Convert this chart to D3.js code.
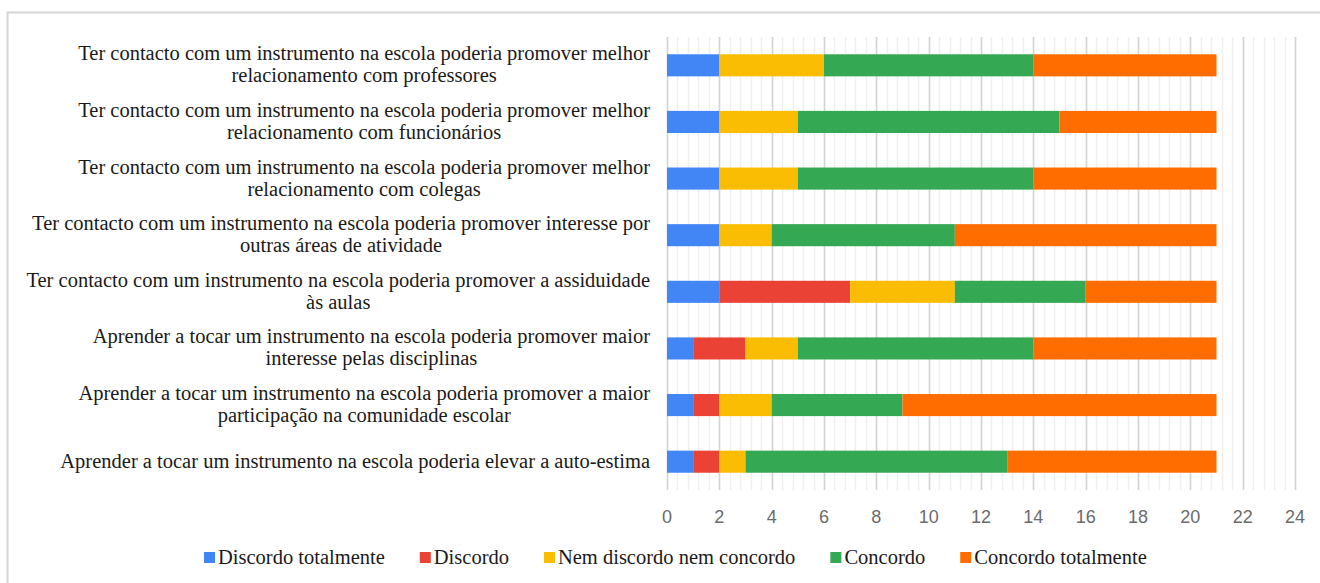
<!DOCTYPE html>
<html>
<head>
<meta charset="utf-8">
<script src="https://cdn.jsdelivr.net/npm/d3@7"></script>
<style>
  body { margin: 0; background: #fff; }
  svg { display: block; }
</style>
</head>
<body>
<div class="root"></div>
<script>
// categories (top to bottom), each split into its label lines
var questions = [
  ['Ter contacto com um instrumento na escola poderia promover melhor', 'relacionamento com professores'],
  ['Ter contacto com um instrumento na escola poderia promover melhor', 'relacionamento com funcionários'],
  ['Ter contacto com um instrumento na escola poderia promover melhor', 'relacionamento com colegas'],
  ['Ter contacto com um instrumento na escola poderia promover interesse por', 'outras áreas de atividade'],
  ['Ter contacto com um instrumento na escola poderia promover a assiduidade', 'às aulas'],
  ['Aprender a tocar um instrumento na escola poderia promover maior', 'interesse pelas disciplinas'],
  ['Aprender a tocar um instrumento na escola poderia promover a maior', 'participação na comunidade escolar'],
  ['Aprender a tocar um instrumento na escola poderia elevar a auto-estima']
];

var seriesNames = ['Discordo totalmente', 'Discordo', 'Nem discordo nem concordo', 'Concordo', 'Concordo totalmente'];
var seriesColors = ['#4285f4', '#ea4335', '#fbbc04', '#34a853', '#ff6d01'];

// one array per series, same order as questions
var discordoTotalmente = [2, 2, 2, 2, 2, 1, 1, 1];
var discordo           = [0, 0, 0, 0, 5, 2, 1, 1];
var nemNem             = [4, 3, 3, 2, 4, 2, 2, 1];
var concordo           = [8, 10, 9, 7, 5, 9, 5, 10];
var concordoTotalmente = [7, 6, 7, 10, 5, 7, 12, 8];

var xTicks = [0, 2, 4, 6, 8, 10, 12, 14, 16, 18, 20, 22, 24];

var w = 1320, h = 583;

var rows = questions.map(function(q, i) {
  return {
    key: i,
    lines: q,
    'Discordo totalmente': discordoTotalmente[i],
    'Discordo': discordo[i],
    'Nem discordo nem concordo': nemNem[i],
    'Concordo': concordo[i],
    'Concordo totalmente': concordoTotalmente[i]
  };
});

var svg = d3.select('.root')
  .append('svg')
  .attr('width', w)
  .attr('height', h);

svg.append('rect')
  .attr('x', 7.5).attr('y', 12.5)
  .attr('width', w).attr('height', h)
  .attr('fill', '#fff')
  .attr('stroke', '#d6d6d6')
  .attr('stroke-width', 2);

var x = d3.scaleLinear()
  .domain([0, 24])
  .range([667, 1295]);

var plotTop = 37, plotBottom = 490;

var y = d3.scaleBand()
  .domain(rows.map(function(d) { return d.key; }))
  .range([plotTop, plotBottom])
  .paddingInner(0.61)
  .paddingOuter(0.305);

// minor grid
svg.append('g')
  .selectAll('line')
  .data(d3.range(0, 24.001, 0.4))
  .enter().append('line')
    .attr('x1', function(d) { return Math.round(x(d)) + 0.5; })
    .attr('x2', function(d) { return Math.round(x(d)) + 0.5; })
    .attr('y1', plotTop).attr('y2', plotBottom)
    .attr('stroke', '#efefef')
    .attr('stroke-width', 1.5);

// major grid
svg.append('g')
  .selectAll('line')
  .data(xTicks)
  .enter().append('line')
    .attr('x1', function(d) { return Math.round(x(d)) + 0.5; })
    .attr('x2', function(d) { return Math.round(x(d)) + 0.5; })
    .attr('y1', plotTop).attr('y2', plotBottom)
    .attr('stroke', '#d4d4d4')
    .attr('stroke-width', 1.5);

var stack = d3.stack().keys(seriesNames);
var layers = stack(rows);

svg.append('g')
  .selectAll('g')
  .data(layers)
  .enter().append('g')
    .attr('fill', function(d, i) { return seriesColors[i]; })
  .selectAll('rect')
  .data(function(d) { return d; })
  .enter().append('rect')
    .attr('x', function(d) { return x(d[0]); })
    .attr('width', function(d) { return x(d[1]) - x(d[0]); })
    .attr('y', function(d) { return y(d.data.key); })
    .attr('height', y.bandwidth());

// x axis labels
svg.append('g')
  .selectAll('text')
  .data(xTicks)
  .enter().append('text')
    .attr('x', function(d) { return x(d); })
    .attr('y', 523)
    .attr('text-anchor', 'middle')
    .attr('font-family', 'Liberation Sans, Arial, sans-serif')
    .attr('font-size', 18)
    .attr('fill', '#6b6b6b')
    .text(function(d) { return d; });

// category labels: block right-aligned at 650, lines centred within it
var labelFont = 'Liberation Serif, Times New Roman, serif';
var labelSize = 20.5;
var lineH = 22;
var labels = svg.append('g')
  .selectAll('text')
  .data(rows)
  .enter().append('text')
    .attr('font-family', labelFont)
    .attr('font-size', labelSize)
    .attr('fill', '#1a1a1a')
    .attr('text-anchor', 'middle');

labels.each(function(d) {
  var t = d3.select(this);
  var cy = y(d.key) + y.bandwidth() / 2;
  var n = d.lines.length;
  d.lines.forEach(function(line, j) {
    t.append('tspan')
      .attr('y', cy + (j - (n - 1) / 2) * lineH + 6)
      .text(line);
  });
  var maxW = 0;
  t.selectAll('tspan').each(function() {
    maxW = Math.max(maxW, this.getComputedTextLength());
  });
  t.selectAll('tspan').attr('x', 650 - maxW / 2);
});

// legend
var legend = svg.append('g');
var lx = 204;
seriesNames.forEach(function(name, i) {
  legend.append('rect')
    .attr('x', lx).attr('y', 552)
    .attr('width', 11).attr('height', 11)
    .attr('fill', seriesColors[i]);
  var t = legend.append('text')
    .attr('x', lx + 14)
    .attr('y', 564)
    .attr('font-family', labelFont)
    .attr('font-size', labelSize)
    .attr('fill', '#1a1a1a')
    .text(name);
  lx += 14 + t.node().getComputedTextLength() + 35;
});
</script>
</body>
</html>
